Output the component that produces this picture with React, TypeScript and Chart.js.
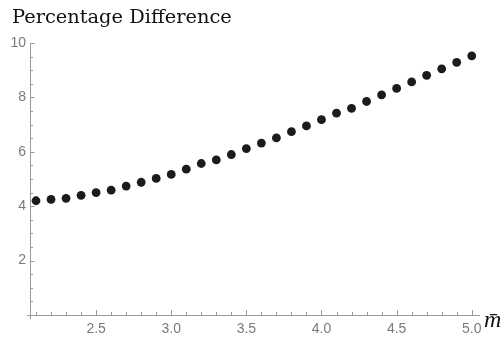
import React, { useEffect, useRef } from "react";
import { Chart, registerables } from "chart.js";

Chart.register(...registerables);

const xValues = [
  2.1, 2.2, 2.3, 2.4, 2.5, 2.6, 2.7, 2.8, 2.9, 3.0,
  3.1, 3.2, 3.3, 3.4, 3.5, 3.6, 3.7, 3.8, 3.9, 4.0,
  4.1, 4.2, 4.3, 4.4, 4.5, 4.6, 4.7, 4.8, 4.9, 5.0,
];
const yValues = [
  4.2, 4.25, 4.29, 4.4, 4.5, 4.59, 4.74, 4.88, 5.02, 5.17,
  5.36, 5.57, 5.7, 5.9, 6.12, 6.32, 6.51, 6.74, 6.95, 7.18,
  7.42, 7.6, 7.85, 8.09, 8.33, 8.57, 8.81, 9.05, 9.29, 9.53,
];
const xTickLabels = [2.5, 3.0, 3.5, 4.0, 4.5, 5.0];
const yTickLabels = [2, 4, 6, 8, 10];
const xMinorStep = 0.1;
const yMinorStep = 0.5;
const xRange = [2.06, 5.055];
const yRange = [0, 10];
const titleText = "Percentage Difference";
const xAxisLabel = "m\u0304";

const AXIS_COLOR = "#9a9a9a";
const LABEL_COLOR = "#7a7a7a";

const axesPlugin = {
  id: "mmaAxes",
  afterDraw(chart: any) {
    const ctx = chart.ctx;
    const area = chart.chartArea;
    const xs = chart.scales.x;
    const ys = chart.scales.y;
    ctx.save();
    ctx.strokeStyle = AXIS_COLOR;
    ctx.lineWidth = 1;
    // axis lines
    ctx.beginPath();
    ctx.moveTo(area.left - 3, area.bottom + 0.5);
    ctx.lineTo(area.right, area.bottom + 0.5);
    ctx.moveTo(area.left + 0.5, area.top);
    ctx.lineTo(area.left + 0.5, area.bottom + 4);
    ctx.stroke();
    // x ticks
    ctx.beginPath();
    const nx = Math.round((xRange[1] - xRange[0]) / xMinorStep) + 2;
    const x0 = Math.ceil(xRange[0] / xMinorStep - 1e-6) * xMinorStep;
    for (let i = 0; i < nx; i++) {
      const v = +(x0 + i * xMinorStep).toFixed(4);
      if (v > xRange[1]) break;
      const isMajor = xTickLabels.some((t) => Math.abs(t - v) < 1e-6);
      const px = Math.round(xs.getPixelForValue(v)) + 0.5;
      const len = isMajor ? 5 : 3;
      ctx.moveTo(px, area.bottom);
      ctx.lineTo(px, area.bottom - len);
    }
    // y ticks
    const ny = Math.round((yRange[1] - yRange[0]) / yMinorStep);
    for (let i = 1; i <= ny; i++) {
      const v = yRange[0] + i * yMinorStep;
      const isMajor = yTickLabels.some((t) => Math.abs(t - v) < 1e-6);
      const py = Math.round(ys.getPixelForValue(v)) + 0.5;
      const len = isMajor ? 4.5 : 3;
      ctx.moveTo(area.left, py);
      ctx.lineTo(area.left + len, py);
    }
    ctx.stroke();
    // title
    ctx.fillStyle = "#111";
    ctx.textAlign = "left";
    ctx.textBaseline = "alphabetic";
    ctx.font = "19.4px 'DejaVu Serif', serif";
    ctx.fillText(titleText, 12, 23);
    // x axis label
    ctx.font = "italic 24px 'Liberation Serif', serif";
    ctx.fillText(xAxisLabel, area.right + 4, area.bottom + 12);
    ctx.restore();
  },
};

export default function App() {
  const ref = useRef<HTMLCanvasElement | null>(null);
  useEffect(() => {
    document.body.style.margin = "0";
    const canvas = ref.current;
    if (!canvas) return;
    const chart = new Chart(canvas, {
      type: "scatter",
      data: {
        datasets: [
          {
            data: xValues.map((x, i) => ({ x, y: yValues[i] })),
            backgroundColor: "#1c1c1c",
            borderWidth: 0,
            pointRadius: 4.4,
          },
        ],
      },
      plugins: [axesPlugin],
      options: {
        responsive: false,
        animation: false,
        devicePixelRatio: 1,
        layout: { padding: { top: 43, right: 24, left: 0, bottom: 0 } },
        plugins: {
          legend: { display: false },
          tooltip: { enabled: false },
          title: { display: false },
        },
        scales: {
          x: {
            type: "linear",
            min: xRange[0],
            max: xRange[1],
            grid: { display: false, drawTicks: false },
            border: { display: false },
            afterBuildTicks: (scale: any) => {
              scale.ticks = xTickLabels.map((v) => ({ value: v }));
            },
            afterFit: (scale: any) => {
              scale.height = 24;
            },
            ticks: {
              padding: 6,
              color: LABEL_COLOR,
              font: { family: "'Liberation Sans', Arial, sans-serif", size: 14 },
              maxRotation: 0,
              autoSkip: false,
              callback: (v: any) => Number(v).toFixed(1),
            },
          },
          y: {
            type: "linear",
            min: yRange[0],
            max: yRange[1],
            grid: { display: false, drawTicks: false },
            border: { display: false },
            afterBuildTicks: (scale: any) => {
              scale.ticks = yTickLabels.map((v) => ({ value: v }));
            },
            afterFit: (scale: any) => {
              scale.width = 30;
            },
            ticks: {
              padding: 4,
              color: LABEL_COLOR,
              font: { family: "'Liberation Sans', Arial, sans-serif", size: 14 },
              autoSkip: false,
              callback: (v: any) => String(v),
            },
          },
        },
      },
    });
    return () => chart.destroy();
  }, []);
  return (
    <div style={{ width: 504, height: 339 }}>
      <canvas ref={ref} width={504} height={339} style={{ display: "block" }} />
    </div>
  );
}
